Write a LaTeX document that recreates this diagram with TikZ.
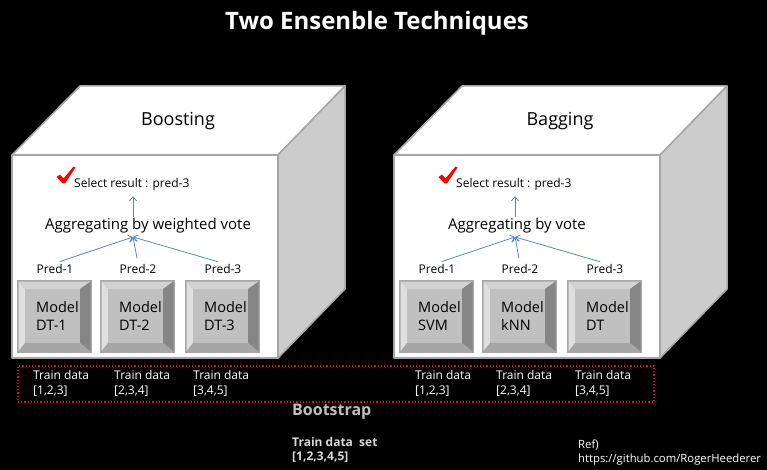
\documentclass[tikz,border=0pt]{standalone}
\usepackage{fontspec}
\setmainfont{Open Sans}
\usetikzlibrary{positioning, arrows.meta}

\definecolor{edgegray}{HTML}{A6A6A6}
\definecolor{sidegray}{HTML}{CCCCCC}
\definecolor{linkblue}{HTML}{5B86C0}
\definecolor{btnface}{HTML}{C0C0C0}

\begin{document}
\begin{tikzpicture}[x=1pt, y=-1pt,
    every node/.style={inner sep=1pt},
    face/.style={draw=edgegray, line width=1.5pt, line join=round},
    link/.style={-{Straight Barb[length=4pt, width=7pt]}, draw=linkblue, line width=0.8pt},
    heading/.style={font=\fontsize{18}{21}\selectfont},
    small/.style={font=\fontsize{12}{14}\selectfont},
    aggr/.style={font=\fontsize{15}{18}\selectfont},
    model/.style={font=\fontsize{14.5}{18}\selectfont, align=left, anchor=west},
    train/.style={font=\fontsize{12}{15}\selectfont, align=left, anchor=west, text=white}]
    \fill[black] (0,0) rectangle (767,470);
    \node[font=\bfseries\fontsize{24}{28}\selectfont, text=white] (title) at (377,23) {Two Ensenble Techniques};
    \foreach \p/\dx/\ttl/\ax/\agg/\mA/\mB/\mC in {1/0/Boosting/148/Aggregating by weighted vote/DT-1/DT-2/DT-3,
                                                 2/382/Bagging/135/Aggregating by vote/SVM/kNN/DT} {
        \begin{scope}[shift={(\dx,0)}]
            % the cube
            \filldraw[face, fill=white] (12,155) -- (80,86) -- (345,86) -- (278,155) -- cycle;
            \filldraw[face, fill=sidegray] (278,155) -- (345,86) -- (345,289) -- (278,358) -- cycle;
            \filldraw[face, fill=white] (12,155) rectangle (278,358);
            \node[heading] (ttl\p) at (178,121) {\ttl};
            % result and vote
            \fill[red] (56.5,177) -- (60,174.5) -- (63.5,178.5) -- (73.5,166.5) -- (75.5,167.5) -- (65,183.5) -- (62.5,183.5) -- cycle;
            \node[small, anchor=west] (sel\p) at (73,184) {Select result : pred-3};
            \node[aggr] (agg\p) at (\ax,226) {\agg};
            \coordinate (hub\p) at (133,237);
            \draw[link, shorten >=5pt] (agg\p.north -| hub\p) -- (sel\p.south -| hub\p);
            \foreach \i/\bx/\tx/\td/\mn in {1/17/32/{[1,2,3]}/\mA, 2/100/113/{[2,3,4]}/\mB, 3/185/192/{[3,4,5]}/\mC} {
                % bevelled button
                \fill[edgegray] (\bx,280) rectangle (\bx+75,353);
                \fill[gray!35] (\bx+1.5,281.5) -- (\bx+73.5,281.5) -- (\bx+63,289) -- (\bx+8,289) -- cycle;
                \fill[gray!25] (\bx+1.5,281.5) -- (\bx+8,289) -- (\bx+8,343) -- (\bx+1.5,351.5) -- cycle;
                \fill[gray!95] (\bx+73.5,281.5) -- (\bx+73.5,351.5) -- (\bx+63,343) -- (\bx+63,289) -- cycle;
                \fill[gray!70] (\bx+1.5,351.5) -- (\bx+8,343) -- (\bx+63,343) -- (\bx+73.5,351.5) -- cycle;
                \fill[btnface] (\bx+8,289) rectangle (\bx+63,343);
                \node[model] (m\p\i) at (\bx+18,316) {Model\\\mn};
                \node[small] (pr\p\i) at (\bx+38,269) {Pred-\i};
                \draw[link, shorten <=5pt] (pr\p\i.north) -- (hub\p);
                \node[train] (td\p\i) at (\tx,383) {Train data\\{}\td};
            }
        \end{scope}
    }
    \node[draw=red, dotted, line width=1.2pt, minimum width=636pt, minimum height=36pt] (pool) at (336,384) {};
    \node[font=\bfseries\fontsize{16}{18}\selectfont, text=gray!50, anchor=west] (boot) at (291,412) {Bootstrap};
    \node[font=\bfseries\fontsize{12}{14}\selectfont, text=gray!30, align=left, anchor=west] (set) at (291,450) {Train data\ \ set\\{}[1,2,3,4,5]};
    \node[font=\fontsize{11.3}{14}\selectfont, text=white, align=left, anchor=west] (ref) at (577,453) {Ref)\\https://github.com/RogerHeederer};
\end{tikzpicture}
\end{document}
